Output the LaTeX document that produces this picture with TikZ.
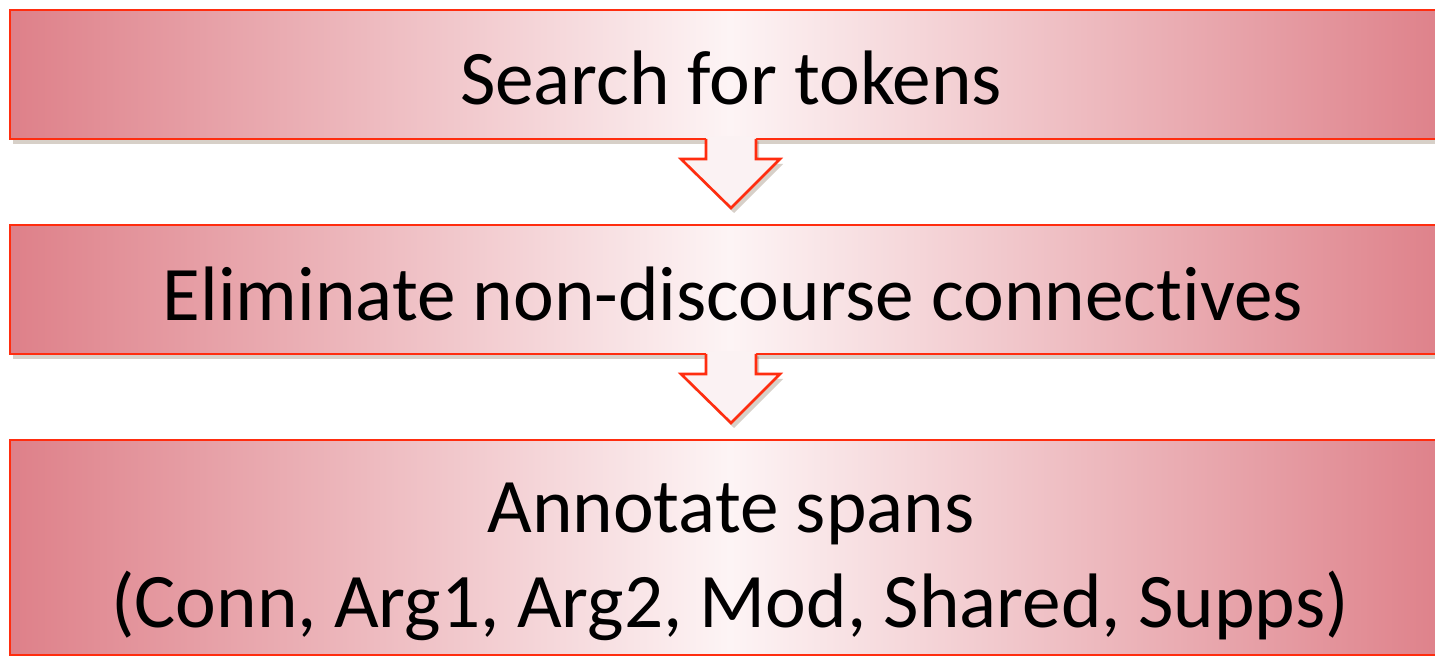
\documentclass[tikz,border=0pt]{standalone}
\usepackage{fontspec}
\setmainfont[Ligatures=NoCommon]{Carlito}
\usetikzlibrary{calc,shadows}
\definecolor{edgepink}{RGB}{222,128,137}
\definecolor{midpink}{RGB}{253,244,245}
\definecolor{bordred}{RGB}{255,45,15}
\definecolor{shadowbrown}{RGB}{125,100,75}
\definecolor{arrowfill}{RGB}{251,242,243}
\begin{document}
\begin{tikzpicture}[x=0.5pt,y=-0.5pt,
  stepbox/.style={draw=bordred, line width=1.3pt, left color=edgepink, right color=edgepink, middle color=midpink,
    minimum width=720pt, inner sep=0pt, outer sep=0pt, rectangle,
    drop shadow={shadow xshift=1.5pt, shadow yshift=-2.5pt, fill=shadowbrown, opacity=0.3}},
  steptext/.style={font=\fontsize{38.6}{46}\selectfont, text=black, anchor=base, inner sep=0pt},
  arrowbody/.style={fill=arrowfill, drop shadow={shadow xshift=1.5pt, shadow yshift=-2.5pt, fill=shadowbrown, opacity=0.3}},
  arrowline/.style={draw=bordred, line width=1.3pt, line join=miter}]
\useasboundingbox (0,0) rectangle (1435,656);
\clip (0,0) rectangle (1435,656);
\fill[white] (0,0) rectangle (1435,656);

\node[stepbox, minimum height=64.5pt] (b1) at (730,74.5) {};
\node[stepbox, minimum height=64.5pt] (b2) at (730,289.5) {};
\node[stepbox, minimum height=107.5pt] (b3) at (730,547.5) {};

\node[steptext] (t1) at ($(b1.center)+(1,30.5)$) {Search for tokens};
\node[steptext] (t2) at ($(b2.center)+(3,31.5)$) {Eliminate non-discourse connectives};
\node[steptext] (t3a) at ($(b3.center)+(1,-14.5)$) {Annotate spans};
\node[steptext] (t3b) at ($(b3.center)+(0,80.5)$) {(Conn, Arg1, Arg2, Mod, Shared, Supps)};

% block arrows between the boxes
\foreach \a/\b in {b1/b2, b2/b3}{
  \fill[arrowbody] ($(\a.south)+(-24,-2.5)$) -- ($(\a.south)+(-24,20)$) -- ($(\a.south)+(-49,20)$)
     -- ($(\b.north)+(1,-17)$) -- ($(\a.south)+(50,20)$) -- ($(\a.south)+(26,20)$) -- ($(\a.south)+(26,-2.5)$) -- cycle;
  \draw[arrowline] ($(\a.south)+(-24,0)$) -- ($(\a.south)+(-24,20)$) -- ($(\a.south)+(-49,20)$)
     -- ($(\b.north)+(1,-17)$) -- ($(\a.south)+(50,20)$) -- ($(\a.south)+(26,20)$) -- ($(\a.south)+(26,0)$);
}
\end{tikzpicture}
\end{document}
